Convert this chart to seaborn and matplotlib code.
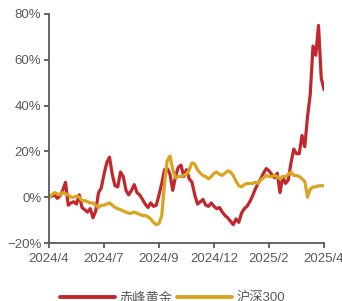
import matplotlib
matplotlib.use('Agg')
import matplotlib.pyplot as plt
import seaborn as sns
import pandas as pd
import numpy as np

# cumulative return (%), evenly spaced samples
chifeng = [0, 0.5, 1, -0.5, 0.5, 3, 6.5, -3.5, -2.5, -2,
           -3, 1, -4.5, -5.5, -6.5, -5, -9, -6, 2, 4,
           10, 15, 17.5, 10, 5, 4.5, 11, 9, 3, 1,
           3, 5.5, 2, 1, -1, -3, -4.5, -2.5, -4, -3.5,
           1, 6, 12, 12.5, 10, 3, 9, 13, 14, 9,
           12, 8, 6.5, 1, -3, -2, -1, -3.5, -4, -2.5,
           -4, -5, -4.5, -6.5, -8, -9, -10.5, -12, -9.5, -11,
           -7, -5, -4, -2, 0.5, 3.5, 6, 8, 10.5, 12.5,
           11.5, 10, 8.5, 10.5, 2, 9, 6, 7.5, 15, 21,
           19, 19, 27, 22, 35, 45, 66, 62, 75, 52,
           47]
hs300 = [0, 1, 2, 1.5, 1, 2, 1.5, 1, 0, 0,
         0.5, 0, -1.5, -1.5, -2, -2.5, -2.5, -3.5, -4.5, -3.5,
         -3.5, -3, -2.5, -3.5, -4.5, -5, -5.5, -6, -6.5, -7,
         -7, -6.5, -7, -7.5, -8, -8, -8.5, -9.5, -11, -12,
         -11.5, -8, 6, 16, 18, 12, 8.5, 9, 9, 9.5,
         10, 12, 15, 14.5, 12, 10.5, 9.5, 9, 8, 9,
         10.5, 11, 10, 9.5, 10.5, 11.5, 11, 9.5, 7, 5,
         4.5, 5.5, 6, 6, 6, 6.5, 6, 7.5, 8.5, 9.5,
         9, 9, 9.5, 9, 8, 9, 9, 10, 11, 9.5,
         9.5, 9, 8, 7, 0, 3.5, 4.5, 4.5, 5, 5,
         5]
tick_labels = ['2024/4', '2024/7', '2024/9', '2024/12', '2025/2', '2025/4']
names = ['赤峰黄金', '沪深300']
colors = ['#C1272D', '#D9A520']

sns.set_style('white')
plt.rcParams['font.family'] = ['Liberation Sans', 'Noto Sans CJK SC', 'DejaVu Sans']
plt.rcParams['axes.unicode_minus'] = True

n = len(chifeng)
df = pd.DataFrame({
    'idx': list(range(n)) * 2,
    'ret': chifeng + hs300,
    'name': [names[0]] * n + [names[1]] * n,
})

fig = plt.figure(figsize=(3.42, 3.01), dpi=100)
ax = fig.add_axes([49 / 342, 1 - 243 / 301, 275 / 342, 229 / 301])

sns.lineplot(data=df, x='idx', y='ret', hue='name', hue_order=names,
             palette=colors, linewidth=2.3, ax=ax, legend=False)

gray = '#595959'
ax.set_xlim(0, n - 1)
ax.set_ylim(-20, 80)
ax.set_yticks([-20, 0, 20, 40, 60, 80])
ax.set_yticklabels(['\u221220%', '0%', '20%', '40%', '60%', '80%'])
ax.set_xticks(np.linspace(0, n - 1, len(tick_labels)))
ax.set_xticklabels(tick_labels)
ax.set_xlabel('')
ax.set_ylabel('')
for s in ['top', 'right']:
    ax.spines[s].set_visible(False)
for s in ['left', 'bottom']:
    ax.spines[s].set_color(gray)
    ax.spines[s].set_linewidth(1.3)
ax.tick_params(axis='both', direction='out', length=3.5, width=1.3,
               color=gray, labelcolor=gray, labelsize=9.5, pad=2,
               left=True, bottom=True)
ax.tick_params(axis='x', pad=4)

handles = [plt.Line2D([], [], color=c, lw=2.8) for c in colors]
fig.legend(handles, names, loc='center', bbox_to_anchor=(0.505, 0.01),
           ncol=2, frameon=False, handlelength=4.2, handletextpad=0.35,
           columnspacing=0.3, fontsize=9.5, labelcolor=gray)

fig.savefig('out.png', dpi=100)
